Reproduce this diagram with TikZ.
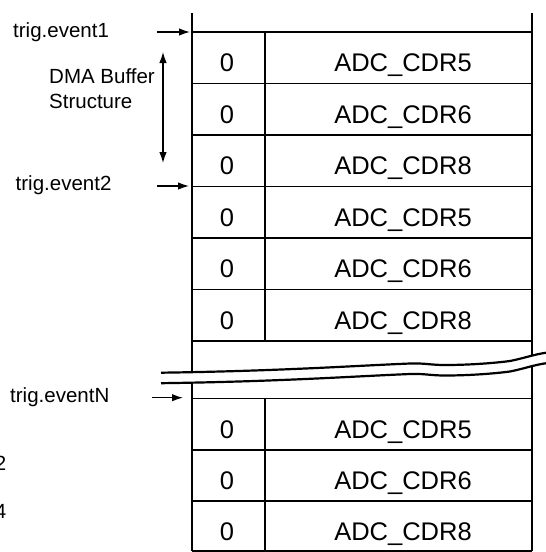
\documentclass[tikz,border=0pt]{standalone}
\usepackage{fontspec}
\setmainfont{Liberation Sans}
\usetikzlibrary{arrows.meta}
\tikzset{
  lbl/.style={font=\fontsize{20.5}{24}\selectfont, inner sep=0pt, anchor=base west},
  celltxt/.style={font=\fontsize{25.5}{30}\selectfont, inner sep=0pt, anchor=base},
  outer/.style={line width=2.3pt},
  rowline/.style={line width=1.7pt},
  divline/.style={line width=1.1pt},
  ptr/.style={line width=1.3pt, -{Latex[length=11pt,width=7.5pt]}},
  dptr/.style={line width=1.3pt, {Latex[length=11pt,width=7.5pt]}-{Latex[length=11pt,width=7.5pt]}},
  brk/.style={line width=2.2pt}
}
\begin{document}
\begin{tikzpicture}[x=1pt,y=-1pt]
\useasboundingbox (0,0) rectangle (546,552);
\clip (0,0) rectangle (546,552);
% outer vertical lines
\draw[outer] (192,13) -- (192,551);
\draw[outer] (532,13) -- (532,551);
% row lines, section 1
\foreach \y in {32,83.5,135,186.5,238,289.5,341}
  \draw[rowline] (192,\y) -- (532,\y);
\draw[divline] (265,32) -- (265,341);
% row lines, section 2
\foreach \y in {398.5,450,501,551}
  \draw[rowline] (192,\y) -- (532,\y);
\draw[divline] (265,398.5) -- (265,551);
% cells
\foreach \t/\n/\lab in {32/1/5,83.5/2/6,135/3/8,186.5/4/5,238/5/6,289.5/6/8,398.5/7/5,450/8/6,501/9/8}{
  \node[celltxt] (z\n) at (227,\t+39.5) {0};
  \node[celltxt] (a\n) at (403,\t+39.5) {ADC\_CDR\lab};
}
% break
\path[fill=white] (150,372.7) .. controls (280,371) and (350,366) .. (410,363.5)
   .. controls (425,363) and (430,365) .. (445,365)
   .. controls (470,365) and (495,363) .. (510,361)
   .. controls (525,358) and (535,354) .. (548,352.5)
   -- (548,363) .. controls (535,364.5) and (525,368.5) .. (510,371.5)
   .. controls (495,373.5) and (470,375.5) .. (445,375.5)
   .. controls (430,375.5) and (425,373.5) .. (410,374)
   .. controls (350,376.5) and (280,381.5) .. (150,383.2) -- cycle;
\draw[brk] (161,372.7) .. controls (280,371) and (350,366) .. (410,363.5)
   .. controls (425,363) and (430,365) .. (445,365)
   .. controls (470,365) and (495,363) .. (510,361)
   .. controls (525,358) and (535,354) .. (548,352.5);
\draw[brk] (161,383.2) .. controls (280,381.5) and (350,376.5) .. (410,374)
   .. controls (425,373.5) and (430,375.5) .. (445,375.5)
   .. controls (470,375.5) and (495,373.5) .. (510,371.5)
   .. controls (525,368.5) and (535,364.5) .. (548,363);
% labels
\node[lbl] (ev1) at (13,37) {trig.event1};
\node[lbl] (dma1) at (49,83) {DMA Buffer};
\node[lbl] (dma2) at (49,108) {Structure};
\node[lbl] (ev2) at (15.5,190) {trig.event2};
\node[lbl] (evN) at (10,402.5) {trig.eventN};
\node[font=\fontsize{20.5}{24}\selectfont, inner sep=0pt, anchor=base east] (p2) at (6.5,470) {2};
\node[font=\fontsize{20.5}{24}\selectfont, inner sep=0pt, anchor=base east] (p4) at (6.5,518) {4};
% arrows
\coordinate (e1s) at (157,32);  \coordinate (e1e) at (190,32);
\coordinate (e2s) at (157,186); \coordinate (e2e) at (189,186);
\coordinate (eNs) at (152,397.7); \coordinate (eNe) at (183,397.7);
\coordinate (ds) at (163,52); \coordinate (de) at (163,163);
\draw[ptr] (e1s) -- (e1e);
\draw[ptr] (e2s) -- (e2e);
\draw[ptr] (eNs) -- (eNe);
\draw[dptr] (ds) -- (de);
\end{tikzpicture}
\end{document}
